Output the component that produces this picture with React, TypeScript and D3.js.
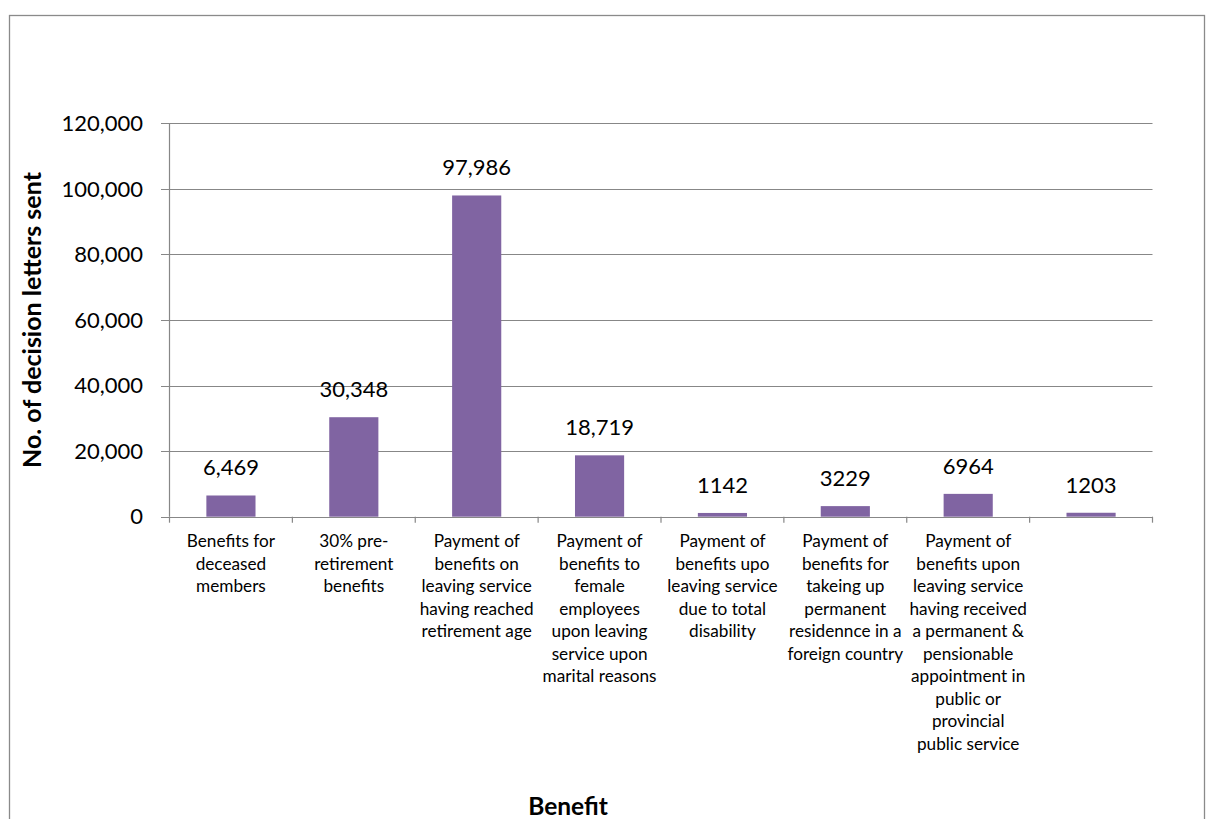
import React from "react";
import * as d3 from "d3";

const categoryLines: string[][] = [
  ["Benefits for", "deceased", "members"],
  ["30% pre-", "retirement", "benefits"],
  ["Payment of", "benefits on", "leaving service", "having reached", "retirement age"],
  ["Payment of", "benefits to", "female", "employees", "upon leaving", "service upon", "marital reasons"],
  ["Payment of", "benefits upo", "leaving service", "due to total", "disability"],
  ["Payment of", "benefits for", "takeing up", "permanent", "residennce in a", "foreign country"],
  ["Payment of", "benefits upon", "leaving service", "having received", "a permanent &", "pensionable", "appointment in", "public or", "provincial", "public service"],
  [],
];
const values = [6469, 30348, 97986, 18719, 1142, 3229, 6964, 1203];
const valueLabels = ["6,469", "30,348", "97,986", "18,719", "1142", "3229", "6964", "1203"];
const yTicks = [0, 20000, 40000, 60000, 80000, 100000, 120000];
const yTitle = "No. of decision letters sent";
const xTitle = "Benefit";

const FONT = "Lato, 'Open Sans', sans-serif";
const GRID = "#878787";
const BAR = "#8064A2";

export default function App() {
  const left = 169.5;
  const right = 1152.5;
  const top = 123.3;
  const bottom = 516.7;
  const idx = values.map((_, i) => String(i));
  const x = d3.scaleBand().domain(idx).range([left, right]).paddingInner(0.6).paddingOuter(0.3);
  const xCat = d3.scaleBand().domain(idx).range([left, right]).padding(0);
  const y = d3.scaleLinear().domain([0, 120000]).range([bottom, top]);
  const fmt = d3.format(",");
  const boundaries = [...idx.map((d) => xCat(d) as number), right];

  return (
    <svg width={1206} height={819} style={{ position: "absolute", left: 0, top: 0, background: "#fff" }}>
      <rect x={0} y={0} width={1206} height={819} fill="#fff" />
      <rect x={9.5} y={15.5} width={1195} height={900} fill="none" stroke="#8a8a8a" strokeWidth={1.3} />
      {yTicks.map((t) => (
        <g key={t}>
          <line x1={161} x2={right} y1={Math.round(y(t)) + 0.5} y2={Math.round(y(t)) + 0.5} stroke={GRID} strokeWidth={1.2} />
          <text x={143} y={y(t)} dy="0.35em" textAnchor="end" fontFamily={FONT} fontSize={22} fill="#000">
            {fmt(t)}
          </text>
        </g>
      ))}
      <line x1={left} x2={left} y1={top} y2={bottom} stroke={GRID} strokeWidth={1.2} />
      {boundaries.map((b, i) => (
        <line key={i} x1={b} x2={b} y1={bottom} y2={bottom + 6} stroke={GRID} strokeWidth={1.2} />
      ))}
      {values.map((v, i) => (
        <g key={i}>
          <rect x={x(String(i))} y={y(v)} width={x.bandwidth()} height={bottom - y(v)} fill={BAR} />
          <text
            x={(x(String(i)) as number) + x.bandwidth() / 2}
            y={y(v) - 20}
            textAnchor="middle"
            fontFamily={FONT}
            fontSize={22}
            fill="#000"
          >
            {valueLabels[i]}
          </text>
        </g>
      ))}
      {categoryLines.map((lines, i) => (
        <text
          key={i}
          x={(xCat(String(i)) as number) + xCat.bandwidth() / 2}
          y={547}
          textAnchor="middle"
          fontFamily={FONT}
          fontSize={17.2}
          fill="#000"
        >
          {lines.map((l, j) => (
            <tspan key={j} x={(xCat(String(i)) as number) + xCat.bandwidth() / 2} dy={j === 0 ? 0 : 22.5}>
              {l}
            </tspan>
          ))}
        </text>
      ))}
      <text
        transform={`translate(41,${(top + bottom) / 2}) rotate(-90)`}
        textAnchor="middle"
        fontFamily={FONT}
        fontWeight="bold"
        fontSize={25}
        fill="#000"
      >
        {yTitle}
      </text>
      <text x={568} y={815} textAnchor="middle" fontFamily={FONT} fontWeight="bold" fontSize={24.5} fill="#000">
        {xTitle}
      </text>
    </svg>
  );
}
